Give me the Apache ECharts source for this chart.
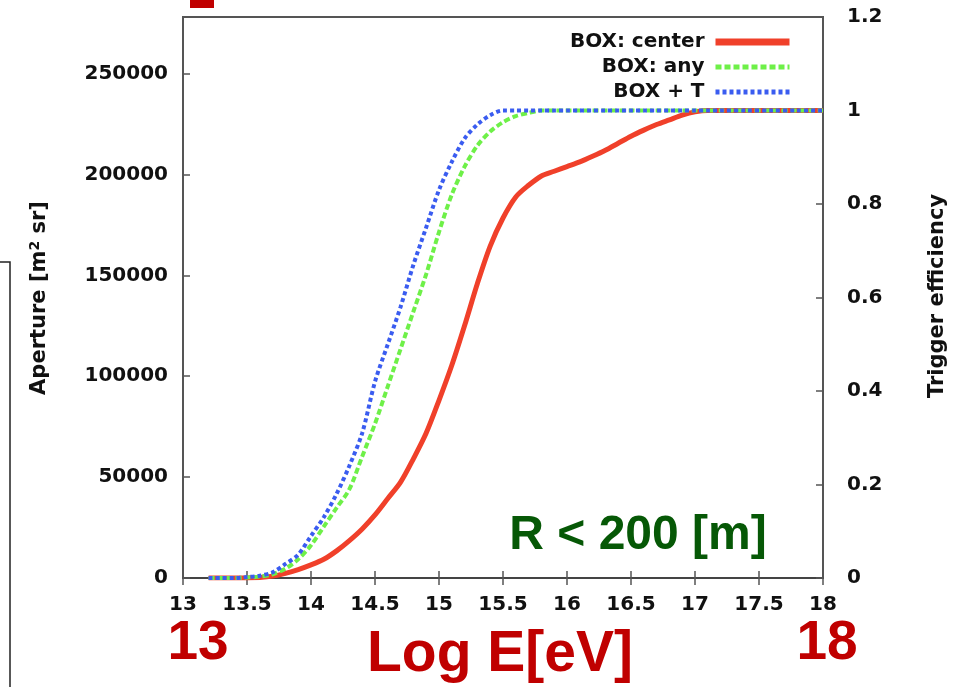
<!DOCTYPE html>
<html><head><meta charset="utf-8">
<script src="https://cdn.jsdelivr.net/npm/echarts@6/dist/echarts.min.js"></script>
<style>html,body{margin:0;padding:0;background:#fff}#c{width:955px;height:687px}</style>
</head><body><div id="c"></div>
<script>
// Data (log10 E [eV] vs trigger efficiency)
const logE =      [13.2,13.3,13.4,13.5,13.6,13.7,13.8,13.9,14.0,14.1,14.2,14.3,14.4,14.5,14.6,14.7,14.8,14.9,15.0,15.1,15.2,15.3,15.4,15.5,15.6,15.7,15.8,15.9,16.0,16.1,16.2,16.3,16.4,16.5,16.6,16.7,16.8,16.9,17.0,17.1,17.2,17.4,17.6,17.8,18.0];
const effCenter = [0,0,0,0,0.001,0.004,0.01,0.018,0.028,0.04,0.058,0.08,0.105,0.135,0.17,0.205,0.255,0.31,0.38,0.455,0.54,0.63,0.71,0.77,0.815,0.84,0.86,0.87,0.88,0.89,0.902,0.915,0.93,0.945,0.958,0.97,0.98,0.99,0.997,1,1,1,1,1,1];
const effAny =    [0,0,0,0.001,0.003,0.008,0.02,0.04,0.07,0.11,0.15,0.19,0.26,0.33,0.41,0.49,0.57,0.65,0.74,0.82,0.88,0.925,0.955,0.975,0.988,0.995,1,1,1,1,1,1,1,1,1,1,1,1,1,1,1,1,1,1,1];
const effBoxT =   [0,0,0,0.002,0.005,0.012,0.03,0.05,0.09,0.13,0.18,0.24,0.31,0.42,0.50,0.58,0.67,0.75,0.83,0.89,0.94,0.97,0.99,1,1,1,1,1,1,1,1,1,1,1,1,1,1,1,1,1,1,1,1,1,1];
const seriesNames = ['BOX: center','BOX: any','BOX + T'];
const xTicks = [13,13.5,14,14.5,15,15.5,16,16.5,17,17.5,18];
const apertureTicks = [0,50000,100000,150000,200000,250000];
const effTicks = [0,0.2,0.4,0.6,0.8,1,1.2];

const pairs = arr => logE.map((x,i)=>[x,arr[i]]);
const FONT = '"DejaVu Sans", "Liberation Sans", Arial, sans-serif';
const ARIAL = '"Liberation Sans", Arial, sans-serif';
const lblFont = {color:'#111',fontWeight:'bold',fontSize:20,fontFamily:FONT};
const tickStyle = {inside:true,length:7,lineStyle:{color:'#555',width:1.5}};
const colors = ['#f0402a','#6ef048','#3a5cf0'];

const chart = echarts.init(document.getElementById('c'));
chart.setOption({
  animation:false,
  backgroundColor:'#fff',
  grid:{left:183,right:132,top:17,bottom:109,show:true,borderColor:'#555',borderWidth:2,backgroundColor:'transparent'},
  legend:{
    orient:'vertical',right:162,top:32,padding:0,itemGap:5,itemWidth:74,itemHeight:20,align:'right',
    itemStyle:{opacity:0},
    textStyle:{color:'#111',fontWeight:'bold',fontSize:20,fontFamily:FONT,padding:[0,6,0,0]},
    data:[
      {name:seriesNames[0],lineStyle:{width:7}},
      {name:seriesNames[1],lineStyle:{width:5}},
      {name:seriesNames[2],lineStyle:{width:5}}
    ]
  },
  xAxis:[{
    type:'value',min:xTicks[0],max:xTicks[xTicks.length-1],interval:0.5,
    axisLine:{show:true,lineStyle:{color:'#444',width:2}},
    axisTick:tickStyle,
    splitLine:{show:false},
    axisLabel:Object.assign({margin:17,formatter:v=>String(v)},lblFont)
  },{
    type:'value',position:'top',min:xTicks[0],max:xTicks[xTicks.length-1],interval:0.5,
    axisLine:{show:true,lineStyle:{color:'#444',width:2}},
    axisTick:tickStyle,splitLine:{show:false},axisLabel:{show:false}
  }],
  yAxis:[{
    type:'value',min:0,max:278000,interval:50000,position:'left',
    axisLine:{show:true,lineStyle:{color:'#555',width:2}},
    axisTick:tickStyle,
    splitLine:{show:false},
    axisLabel:Object.assign({margin:15,showMaxLabel:false,formatter:v=>apertureTicks.includes(v)?String(v):''},lblFont)
  },{
    type:'value',min:0,max:1.2,interval:0.2,position:'right',
    axisLine:{show:true,lineStyle:{color:'#555',width:2}},
    axisTick:tickStyle,
    splitLine:{show:false},
    axisLabel:Object.assign({margin:24,formatter:v=>{const r=Math.round(v*10)/10;return effTicks.includes(r)?String(r):'';}},lblFont)
  }],
  series:[
    {name:seriesNames[0],type:'line',yAxisIndex:1,data:pairs(effCenter),smooth:0.3,symbol:'none',color:colors[0],lineStyle:{color:colors[0],width:5},z:3},
    {name:seriesNames[1],type:'line',yAxisIndex:1,data:pairs(effAny),smooth:0.3,symbol:'none',color:colors[1],lineStyle:{color:colors[1],width:4,type:[6,3]},z:4},
    {name:seriesNames[2],type:'line',yAxisIndex:1,data:pairs(effBoxT),smooth:0.3,symbol:'none',color:colors[2],lineStyle:{color:colors[2],width:4,type:[4,3]},z:5}
  ],
  graphic:[
    {type:'text',x:638,y:536,style:{text:'R < 200 [m]',align:'center',verticalAlign:'middle',fill:'#065806',font:'bold 48px ' + ARIAL}},
    {type:'text',x:198,y:644,style:{text:'13',align:'center',verticalAlign:'middle',fill:'#c00000',font:'bold 55px ' + ARIAL}},
    {type:'text',x:827,y:644,style:{text:'18',align:'center',verticalAlign:'middle',fill:'#c00000',font:'bold 55px ' + ARIAL}},
    {type:'text',x:500,y:655,style:{text:'Log E[eV]',align:'center',verticalAlign:'middle',fill:'#c00000',font:'bold 57px ' + ARIAL}},
    {type:'text',x:40,y:298,rotation:Math.PI/2,style:{text:'Aperture [m{s|2} sr]',align:'center',verticalAlign:'middle',fill:'#111',font:'bold 21px ' + FONT,rich:{s:{fontSize:14,fontWeight:'bold',fontFamily:'DejaVu Sans',verticalAlign:'top',padding:[0,0,10,0]}}}},
    {type:'text',x:938,y:296,rotation:Math.PI/2,style:{text:'Trigger efficiency',align:'center',verticalAlign:'middle',fill:'#111',font:'bold 21px ' + FONT}},
    {type:'polyline',shape:{points:[[0,262],[10,262],[10,687]]},style:{stroke:'#222',lineWidth:1.5,fill:null}},
    {type:'rect',shape:{x:190,y:0,width:24,height:8},style:{fill:'#c00000'}}
  ]
});
</script></body></html>
